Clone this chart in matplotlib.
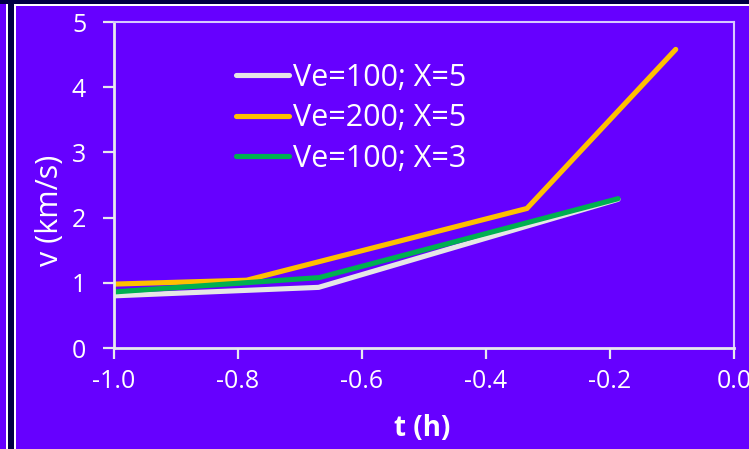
import matplotlib
matplotlib.use('Agg')
import matplotlib.pyplot as plt
from matplotlib.patches import Rectangle

plt.rcParams['font.family'] = ['Open Sans', 'DejaVu Sans']

# data
t_white = [-1.0, -0.67, -0.187]
v_white = [0.80, 0.93, 2.28]
t_orange = [-1.0, -0.786, -0.334, -0.094]
v_orange = [0.98, 1.04, 2.14, 4.58]
t_green = [-1.0, -0.669, -0.187]
v_green = [0.86, 1.08, 2.29]
labels = ['Ve=100; X=5', 'Ve=200; X=5', 'Ve=100; X=3']

bg = '#6600FF'
navy = '#000044'
fg = '#E8E8EE'

W, H = 749, 449
fig = plt.figure(figsize=(W / 100, H / 100), dpi=100, facecolor=bg)


def px_rect(x0, y0, w, h, color):
    # rectangle given in pixels from top-left corner
    fig.add_artist(Rectangle((x0 / W, 1 - (y0 + h) / H), w / W, h / H,
                             transform=fig.transFigure, facecolor=color,
                             edgecolor='none', zorder=0))


# slide frame bits
px_rect(0, 0, W, 4, navy)
px_rect(6, 4, 1.5, H, 'white')
px_rect(7.5, 0, 6.5, H, navy)
px_rect(14, 5, 2, H, 'white')
px_rect(14, 4.5, W, 1.5, 'white')

ax = fig.add_axes([114 / W, 1 - 348 / H, (734 - 114) / W, (348 - 22) / H])
ax.set_facecolor(bg)

lw = 3.7
ax.plot(t_white, v_white, color='#E6E6E6', lw=lw, label=labels[0],
        solid_capstyle='round', solid_joinstyle='miter')
ax.plot(t_orange, v_orange, color='#FFC000', lw=lw, label=labels[1],
        solid_capstyle='round', solid_joinstyle='miter')
ax.plot(t_green, v_green, color='#00B050', lw=lw, label=labels[2],
        solid_capstyle='round', solid_joinstyle='miter')

ax.set_xlim(-1.0, 0.0)
ax.set_ylim(0, 5)
ax.set_xticks([-1.0, -0.8, -0.6, -0.4, -0.2, 0.0])
ax.set_xticklabels(['-1.0', '-0.8', '-0.6', '-0.4', '-0.2', '0.0'])
ax.set_yticks([0, 1, 2, 3, 4, 5])

for side in ['left', 'bottom']:
    ax.spines[side].set_color(fg)
    ax.spines[side].set_linewidth(2)
for side in ['top', 'right']:
    ax.spines[side].set_color('#D8C8FF')
    ax.spines[side].set_linewidth(1.5)

ax.tick_params(colors=fg, labelcolor='white', labelsize=18, length=8,
               width=1.6, direction='out')
ax.tick_params(axis='x', pad=7)
ax.tick_params(axis='y', pad=12)

ax.set_xlabel('t (h)', color='white', fontsize=20, fontweight='bold', va='center')
ax.xaxis.set_label_coords((422 - 114) / 620, -(428 - 348) / 326)
ax.set_ylabel('v (km/s)', color='white', fontsize=22, va='center')
ax.yaxis.set_label_coords(-(114 - 50) / 620, (348 - 210) / 326)

leg = ax.legend(loc='upper left', bbox_to_anchor=((236 - 114) / 620, (348 - 63) / 326),
                frameon=False, fontsize=22, handlelength=1.75,
                handletextpad=0.12, labelspacing=0.34, borderaxespad=0,
                borderpad=0)
for txt in leg.get_texts():
    txt.set_color('white')

fig.savefig('out.png', dpi=100, facecolor=bg)
